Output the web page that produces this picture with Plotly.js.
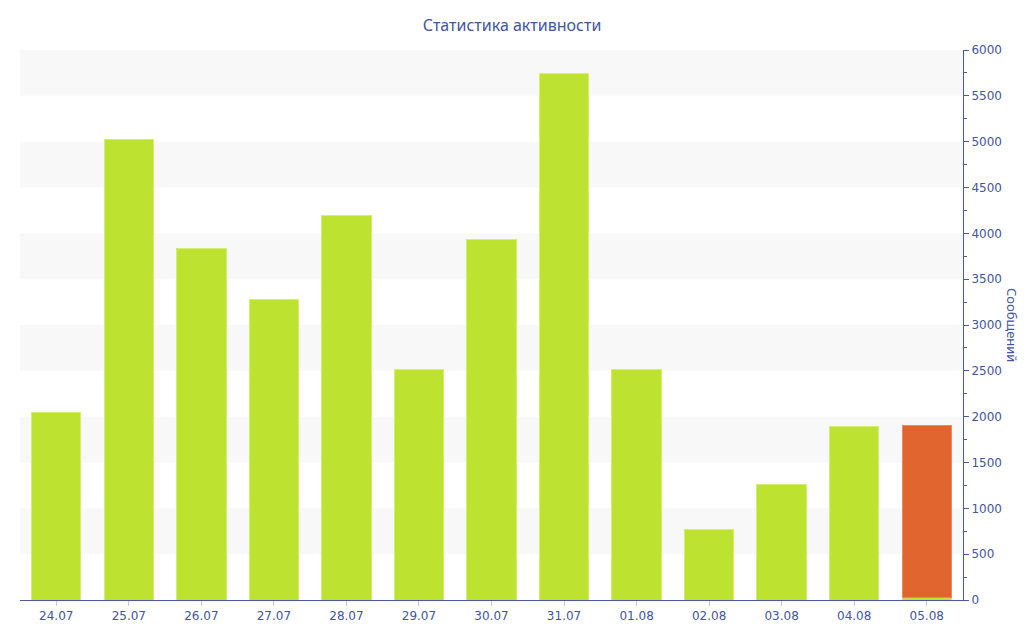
<!DOCTYPE html>
<html>
<head>
<meta charset="utf-8">
<script src="https://cdn.plot.ly/plotly-3.0.1.min.js"></script>
<style>html,body{margin:0;padding:0;background:#fff;}#chart{width:1024px;height:640px;}</style>
</head>
<body>
<div id="chart"></div>
<script>
const categories = ["24.07","25.07","26.07","27.07","28.07","29.07","30.07","31.07","01.08","02.08","03.08","04.08","05.08"];
const messages = [2050, 5020, 3830, 3275, 4200, 2510, 3930, 5740, 2510, 765, 1265, 1890, 30];
const today = [null, null, null, null, null, null, null, null, null, null, null, null, 1870];
const yTicks = [0, 500, 1000, 1500, 2000, 2500, 3000, 3500, 4000, 4500, 5000, 5500, 6000];

const axisColor = '#4a5a9e';
const textColor = '#43559c';

const shapes = [];
for (let i = 1; i < yTicks.length; i += 2) {
  shapes.push({type:'rect', xref:'paper', yref:'y', x0:0, x1:1, y0:yTicks[i], y1:yTicks[i+1], fillcolor:'#f8f8f8', line:{width:0}, layer:'below'});
}

const traces = [
  {type:'bar', x:categories, y:messages, marker:{color:'#bde22f', line:{color:'#d3ee70', width:1}}, width:0.68, hoverinfo:'x+y'},
  {type:'bar', x:categories, y:today, marker:{color:'#e0652f', line:{color:'#e98a5c', width:1}}, width:0.68, hoverinfo:'x+y'}
];

const layout = {
  width:1024, height:640,
  margin:{l:20, r:61, t:50, b:40},
  paper_bgcolor:'#fff', plot_bgcolor:'#fff',
  barmode:'stack', showlegend:false,
  font:{family:'DejaVu Sans, Verdana, sans-serif', color:textColor, size:12},
  title:{text:'Статистика активности', font:{family:'Noto Sans, sans-serif', size:16, color:textColor}, x:0.5, xanchor:'center', y:0.96, yanchor:'middle'},
  xaxis:{type:'category', showgrid:false, showline:true, linecolor:axisColor, linewidth:1, ticks:'outside', ticklen:5, tickcolor:'#c0c8d8', tickfont:{size:12, color:textColor}, zeroline:false, fixedrange:true},
  yaxis:{side:'right', range:[0,6000], tickvals:yTicks, showgrid:false, zeroline:false, showline:true, linecolor:axisColor, linewidth:1, ticks:'outside', ticklen:5, tickcolor:axisColor, tickfont:{size:12, color:textColor}, ticklabelstandoff:0,
    minor:{dtick:250, ticks:'outside', ticklen:3, tickcolor:axisColor, showgrid:false}, fixedrange:true},
  shapes:shapes,
  annotations:[{text:'Сообщений', textangle:90, xref:'paper', yref:'paper', x:1.052, y:0.5, xanchor:'center', yanchor:'middle', showarrow:false, font:{family:'Noto Sans, sans-serif', size:13, color:textColor}}]
};

Plotly.newPlot('chart', traces, layout, {displayModeBar:false, staticPlot:true});
</script>
</body>
</html>
